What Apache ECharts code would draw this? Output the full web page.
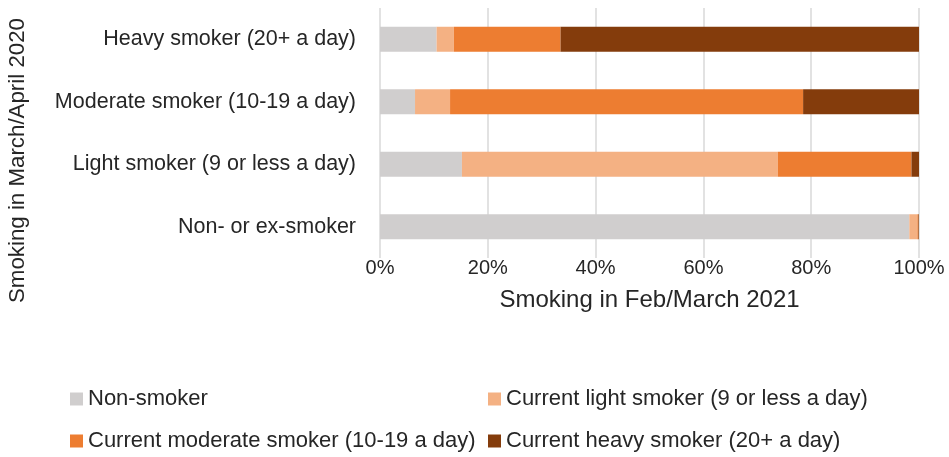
<!DOCTYPE html>
<html>
<head>
<meta charset="utf-8">
<script src="https://cdn.jsdelivr.net/npm/echarts@6/dist/echarts.min.js"></script>
<style>
html,body{margin:0;padding:0;background:#fff;}
#chart{width:949px;height:457px;}
</style>
</head>
<body>
<div id="chart"></div>
<script>
var categories = ['Non- or ex-smoker', 'Light smoker (9 or less a day)', 'Moderate smoker (10-19 a day)', 'Heavy smoker (20+ a day)'];
var nonSmoker = [98.2, 15.2, 6.5, 10.5];
var lightSmoker = [1.5, 58.6, 6.5, 3.2];
var moderateSmoker = [0.2, 24.8, 65.5, 19.8];
var heavySmoker = [0.1, 1.4, 21.5, 66.5];
var seriesNames = ['Non-smoker', 'Current light smoker (9 or less a day)', 'Current moderate smoker (10-19 a day)', 'Current heavy smoker (20+ a day)'];
var colors = ['#D0CECE', '#F4B183', '#ED7D31', '#843C0C'];

var chart = echarts.init(document.getElementById('chart'));
var font = 'Liberation Sans';
var textColor = '#262626';

function makeSeries(name, data, color){
    return {
        name: name,
        type: 'bar',
        stack: 'total',
        barWidth: 25,
        data: data,
        itemStyle: {color: color},
        emphasis: {disabled: true}
    };
}

//legend laid out as a 2x2 grid, one item per legend
function makeLegend(name, left, top){
    return {
        left: left,
        top: top,
        itemWidth: 13,
        itemHeight: 13,
        itemGap: 0,
        icon: 'rect',
        padding: 0,
        textStyle: {fontSize: 22, color: textColor, padding: [0, 0, 0, 0]},
        data: [name]
    };
}

chart.setOption({
    animation: false,
    textStyle: {fontFamily: font},
    grid: {left: 380, right: 30, top: 8, bottom: 199},
    xAxis: {
        type: 'value',
        min: 0,
        max: 100,
        interval: 20,
        axisLine: {show: false},
        axisTick: {show: false},
        splitLine: {lineStyle: {color: '#D9D9D9', width: 1.5}},
        axisLabel: {formatter: '{value}%', fontSize: 20, color: textColor, margin: 0},
        name: 'Smoking in Feb/March 2021',
        nameLocation: 'middle',
        nameGap: 30,
        nameTextStyle: {fontSize: 24, color: textColor}
    },
    yAxis: {
        type: 'category',
        data: categories,
        axisLine: {show: false},
        axisTick: {show: false},
        axisLabel: {fontSize: 21.5, color: textColor, margin: 24}
    },
    graphic: [{
        type: 'text',
        left: 7,
        top: 18,
        rotation: Math.PI / 2,
        style: {
            text: 'Smoking in March/April 2020',
            fontSize: 22.3,
            fontFamily: font,
            fill: textColor
        }
    }],
    legend: [
        makeLegend(seriesNames[0], 70, 388),
        makeLegend(seriesNames[1], 488, 388),
        makeLegend(seriesNames[2], 70, 430),
        makeLegend(seriesNames[3], 488, 430)
    ],
    series: [
        makeSeries(seriesNames[0], nonSmoker, colors[0]),
        makeSeries(seriesNames[1], lightSmoker, colors[1]),
        makeSeries(seriesNames[2], moderateSmoker, colors[2]),
        makeSeries(seriesNames[3], heavySmoker, colors[3])
    ]
});
</script>
</body>
</html>
